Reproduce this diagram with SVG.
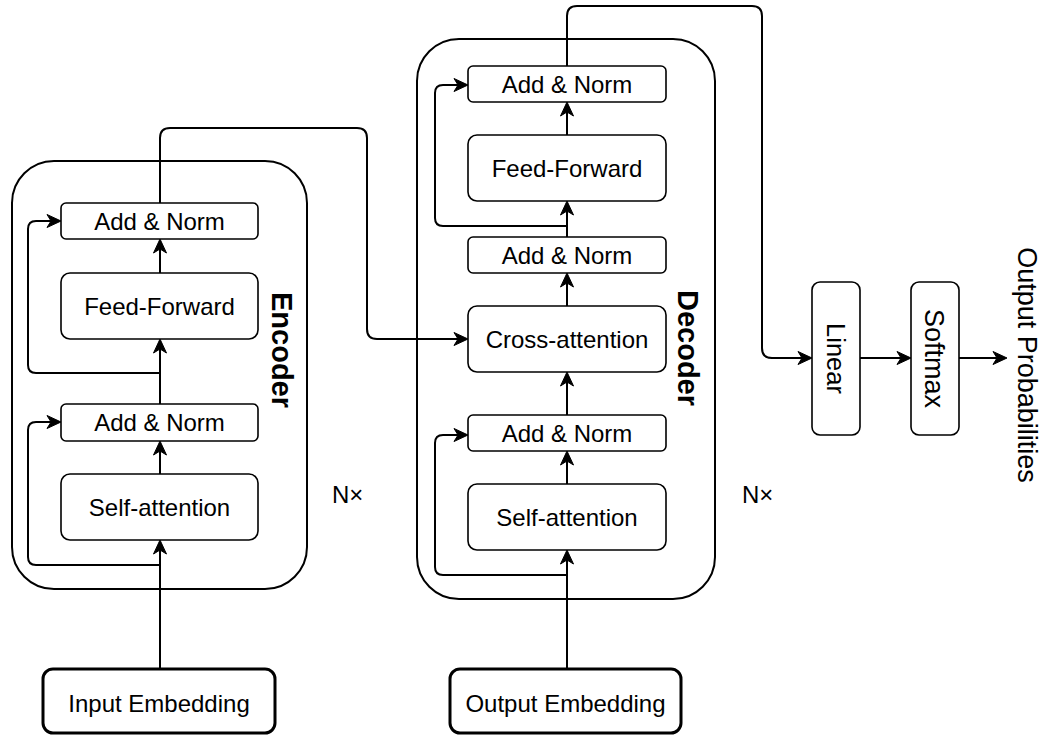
<svg xmlns="http://www.w3.org/2000/svg" width="1044" height="735" viewBox="0 0 1044 735">
  <defs>
    <marker id="arrow" markerUnits="userSpaceOnUse" markerWidth="30" markerHeight="30" refX="0" refY="0" orient="auto" overflow="visible">
      <path d="M4,0 L-10,-6.5 L-6,0 L-10,6.5 Z" fill="#000" stroke="#000" stroke-width="1" stroke-linejoin="miter"/>
    </marker>
  </defs>
  <style>
    .container { fill: #fff; stroke: #000; stroke-width: 2; }
    .box { fill: #fff; stroke: #000; stroke-width: 1.6; }
    .emb { fill: #fff; stroke: #000; stroke-width: 3; }
    .lbl { font-family: "Liberation Sans", Arial, sans-serif; font-size: 24px; fill: #000; text-anchor: middle; }
    .vlbl { font-family: "Liberation Sans", Arial, sans-serif; font-size: 27px; fill: #000; text-anchor: middle; }
    .big { font-family: "Liberation Sans", Arial, sans-serif; font-size: 29px; font-weight: bold; fill: #000; text-anchor: middle; }
    .nx { font-family: "Liberation Sans", Arial, sans-serif; font-size: 24px; fill: #000; }
    .conn { fill: none; stroke: #000; stroke-width: 2; }
    .arr { marker-end: url(#arrow); }
  </style>
  <rect width="1044" height="735" fill="#fff"/>

  <g id="encoder">
    <rect class="container" x="12" y="161" width="295" height="428" rx="42"/>
    <text class="big" transform="translate(282.5,350) rotate(90)" x="0" y="10.4">Encoder</text>
  </g>
  <g id="decoder">
    <rect class="container" x="417" y="39" width="298" height="560" rx="42"/>
    <text class="big" transform="translate(688.5,348) rotate(90)" x="0" y="10.6">Decoder</text>
  </g>

  <g id="connectors">
    <!-- encoder -->
    <path class="conn arr" d="M160,669 V544"/>
    <path class="conn arr" d="M160,565 H36 Q28,565 28,557 V430 Q28,422 36,422 H57"/>
    <path class="conn arr" d="M160,474 V445"/>
    <path class="conn arr" d="M160,404 V343"/>
    <path class="conn arr" d="M160,373 H36 Q28,373 28,365 V229 Q28,221 36,221 H57"/>
    <path class="conn arr" d="M160,273 V243"/>
    <path class="conn arr" d="M160,203 V138 Q160,128 170,128 H357 Q367,128 367,138 V329 Q367,339 377,339 H464"/>
    <!-- decoder -->
    <path class="conn arr" d="M567,669 V554"/>
    <path class="conn arr" d="M567,575 H443 Q435,575 435,567 V443 Q435,435 443,435 H464"/>
    <path class="conn arr" d="M567,484 V455"/>
    <path class="conn arr" d="M567,415 V376"/>
    <path class="conn arr" d="M567,306 V277"/>
    <path class="conn arr" d="M567,237 V205"/>
    <path class="conn arr" d="M567,226 H443 Q435,226 435,218 V93 Q435,85 443,85 H464"/>
    <path class="conn arr" d="M567,135 V106"/>
    <path class="conn arr" d="M567,66 V16 Q567,6 577,6 H752 Q762,6 762,16 V348 Q762,358 772,358 H808"/>
    <!-- head -->
    <path class="conn arr" d="M860,358 H907"/>
    <path class="conn arr" d="M959,358 H1003"/>
  </g>

  <g id="enc-addnorm-2">
    <rect class="box" x="61" y="203" width="197" height="36" rx="5"/>
    <text class="lbl" x="159.5" y="229.6">Add &amp; Norm</text>
  </g>
  <g id="enc-feedforward">
    <rect class="box" x="61" y="273" width="197" height="66" rx="9"/>
    <text class="lbl" x="159.5" y="314.6">Feed-Forward</text>
  </g>
  <g id="enc-addnorm-1">
    <rect class="box" x="61" y="404" width="197" height="37" rx="5"/>
    <text class="lbl" x="159.5" y="431">Add &amp; Norm</text>
  </g>
  <g id="enc-selfattention">
    <rect class="box" x="61" y="474" width="197" height="66" rx="9"/>
    <text class="lbl" x="159.5" y="515.6">Self-attention</text>
  </g>
  <g id="input-embedding">
    <rect class="emb" x="43" y="669" width="232" height="64" rx="10"/>
    <text class="lbl" x="159" y="712">Input Embedding</text>
  </g>

  <g id="dec-addnorm-3">
    <rect class="box" x="468" y="66" width="198" height="36" rx="5"/>
    <text class="lbl" x="567" y="92.6">Add &amp; Norm</text>
  </g>
  <g id="dec-feedforward">
    <rect class="box" x="468" y="135" width="198" height="66" rx="9"/>
    <text class="lbl" x="567" y="176.6">Feed-Forward</text>
  </g>
  <g id="dec-addnorm-2">
    <rect class="box" x="468" y="237" width="198" height="36" rx="5"/>
    <text class="lbl" x="567" y="263.6">Add &amp; Norm</text>
  </g>
  <g id="dec-crossattention">
    <rect class="box" x="468" y="306" width="198" height="66" rx="9"/>
    <text class="lbl" x="567" y="347.6">Cross-attention</text>
  </g>
  <g id="dec-addnorm-1">
    <rect class="box" x="468" y="415" width="198" height="36" rx="5"/>
    <text class="lbl" x="567" y="441.6">Add &amp; Norm</text>
  </g>
  <g id="dec-selfattention">
    <rect class="box" x="468" y="484" width="198" height="66" rx="9"/>
    <text class="lbl" x="567" y="525.6">Self-attention</text>
  </g>
  <g id="output-embedding">
    <rect class="emb" x="450" y="669" width="231" height="64" rx="10"/>
    <text class="lbl" x="565.5" y="712">Output Embedding</text>
  </g>

  <g id="linear">
    <rect class="box" x="812" y="282" width="48" height="153" rx="8"/>
    <text class="vlbl" transform="translate(836,358.5) rotate(90)" x="0" y="9.5" style="font-size:25.5px">Linear</text>
  </g>
  <g id="softmax">
    <rect class="box" x="911" y="282" width="48" height="153" rx="8"/>
    <text class="vlbl" transform="translate(935,358.5) rotate(90)" x="0" y="9.7">Softmax</text>
  </g>
  <g id="output-probabilities">
    <text class="vlbl" transform="translate(1028,365) rotate(90)" x="0" y="9.7">Output Probabilities</text>
  </g>

  <g id="enc-repeat">
    <text class="nx" x="332" y="503">N×</text>
  </g>
  <g id="dec-repeat">
    <text class="nx" x="742" y="503">N×</text>
  </g>
</svg>
